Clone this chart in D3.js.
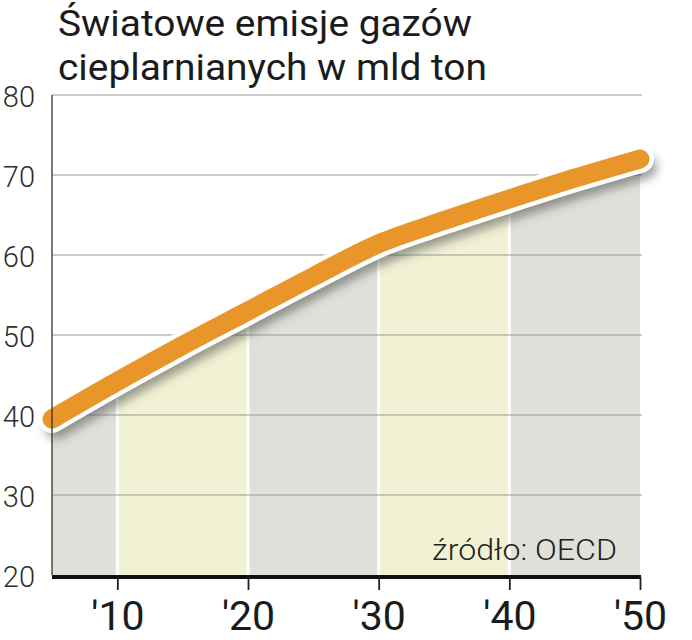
<!DOCTYPE html>
<html>
<head>
<meta charset="utf-8">
<script src="https://cdn.jsdelivr.net/npm/d3@7"></script>
<style>
html,body{margin:0;padding:0;background:#fff;}
svg{display:block;}
</style>
</head>
<body>
<script>
const titleLines = ["Światowe emisje gazów", "cieplarnianych w mld ton"];
const sourceText = "źródło: OECD";
const years = [2005, 2010, 2015, 2020, 2025, 2030, 2035, 2040, 2045, 2050];
const values = [39.5, 44.2, 48.7, 53.0, 57.3, 61.4, 64.3, 67.0, 69.6, 72.0];
const yTicks = [20, 30, 40, 50, 60, 70, 80];
const xTicks = [2010, 2020, 2030, 2040, 2050];
const xTickLabels = ["'10", "'20", "'30", "'40", "'50"];
const bandEdges = [2005, 2010, 2020, 2030, 2040, 2050];
const bandColors = ["#e0e0da", "#f1f1d4"];

const W = 692, H = 640;
const svg = d3.select("body").append("svg").attr("width", W).attr("height", H);

const x = d3.scaleLinear().domain([2005, 2050]).range([52, 640]);
const y = d3.scaleLinear().domain([20, 80]).range([575, 95]);

const data = years.map((yr, i) => ({yr, v: values[i]}));

const defs = svg.append("defs");
const f = defs.append("filter").attr("id", "blur").attr("x", "-20%").attr("y", "-20%").attr("width", "140%").attr("height", "140%");
f.append("feGaussianBlur").attr("stdDeviation", 5);

const areaGen = d3.area().x(d => x(d.yr)).y0(y(20)).y1(d => y(d.v)).curve(d3.curveMonotoneX);
const lineGen = d3.line().x(d => x(d.yr)).y(d => y(d.v)).curve(d3.curveMonotoneX);

defs.append("clipPath").attr("id", "areaClip").append("path").attr("d", areaGen(data));

// title
svg.selectAll("text.title").data(titleLines).join("text")
  .attr("class", "title")
  .attr("x", 58).attr("y", (d, i) => 36 + i * 44)
  .attr("font-family", "Roboto, 'Open Sans', sans-serif")
  .attr("font-size", 36).attr("fill", "#1b1b1b")
  .attr("textLength", (d, i) => i === 0 ? 414 : 429)
  .attr("lengthAdjust", "spacingAndGlyphs")
  .text(d => d);

// bands
const bands = svg.append("g").attr("clip-path", "url(#areaClip)");
bands.selectAll("rect").data(d3.pairs(bandEdges)).join("rect")
  .attr("x", d => x(d[0])).attr("width", d => x(d[1]) - x(d[0]))
  .attr("y", y(80)).attr("height", y(20) - y(80))
  .attr("fill", (d, i) => bandColors[i % 2]);
bands.selectAll("line").data(bandEdges.slice(1, -1)).join("line")
  .attr("x1", d => x(d)).attr("x2", d => x(d))
  .attr("y1", y(80)).attr("y2", y(20))
  .attr("stroke", "#fff").attr("stroke-width", 3);

// gridlines
svg.append("g").selectAll("line").data(yTicks.filter(t => t > 20)).join("line")
  .attr("x1", 52).attr("x2", 642)
  .attr("y1", d => y(d)).attr("y2", d => y(d))
  .attr("stroke", "#9a9a9a").attr("stroke-width", 1.2);

// shadow
svg.append("path").attr("d", lineGen(data))
  .attr("fill", "none").attr("stroke", "#444").attr("stroke-opacity", 0.5)
  .attr("stroke-width", 24).attr("stroke-linecap", "round")
  .attr("transform", "translate(5,8)").attr("filter", "url(#blur)");

// white outline & orange line
svg.append("path").attr("d", lineGen(data))
  .attr("fill", "none").attr("stroke", "#fff")
  .attr("stroke-width", 28).attr("stroke-linecap", "round").attr("stroke-linejoin", "round");
svg.append("path").attr("d", lineGen(data))
  .attr("fill", "none").attr("stroke", "#e8952a")
  .attr("stroke-width", 19).attr("stroke-linecap", "round").attr("stroke-linejoin", "round");

// y axis line
svg.append("line").attr("x1", 52).attr("x2", 52).attr("y1", y(80)).attr("y2", y(20))
  .attr("stroke", "#333").attr("stroke-width", 1.3);

// y labels
svg.append("g").selectAll("text").data(yTicks).join("text")
  .attr("x", 35).attr("y", d => y(d) + 12)
  .attr("text-anchor", "end")
  .attr("font-family", "Roboto, sans-serif").attr("font-weight", 300)
  .attr("font-size", 29).attr("fill", "#2e2e2e")
  .text(d => d);

// x axis
const xAxis = d3.axisBottom(x).tickValues(xTicks).tickSize(13).tickFormat((d, i) => xTickLabels[i]);
const gx = svg.append("g").attr("transform", `translate(0,${y(20) + 2})`).call(xAxis);
gx.select(".domain").attr("stroke", "#111").attr("stroke-width", 4).attr("d", `M52,0H641`);
gx.selectAll(".tick line").attr("stroke", "#222").attr("stroke-width", 1.8);
gx.selectAll(".tick text")
  .attr("y", 53).attr("dy", 0)
  .attr("font-family", "Roboto, sans-serif").attr("font-size", 41)
  .attr("fill", "#1b1b1b");

// source
svg.append("text").attr("x", 432).attr("y", 560)
  .attr("font-family", "Roboto, sans-serif").attr("font-weight", 300)
  .attr("font-size", 30).attr("fill", "#222")
  .attr("textLength", 185).attr("lengthAdjust", "spacingAndGlyphs")
  .text(sourceText);
</script>
</body>
</html>
